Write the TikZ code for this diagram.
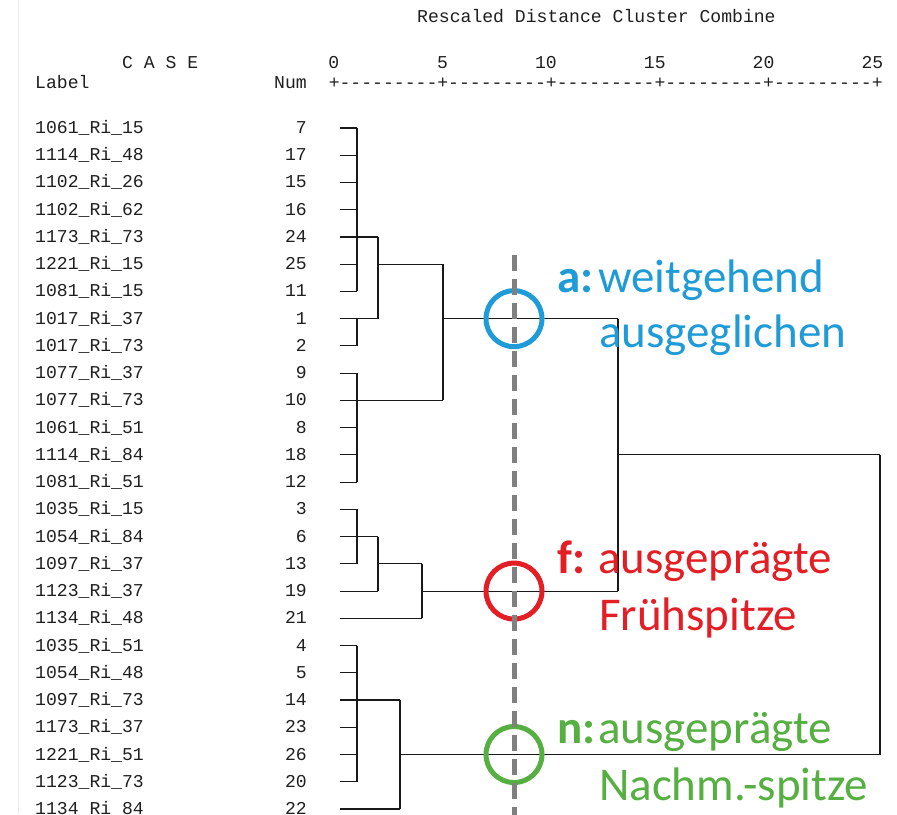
\documentclass[tikz,border=0pt]{standalone}
\usepackage{fontspec}
\setmonofont{Liberation Mono}
\newfontfamily\calib{Carlito}
\definecolor{cblue}{HTML}{1F9BD7}
\definecolor{cred}{HTML}{E31E25}
\definecolor{cgreen}{HTML}{55AF41}
\definecolor{dashgray}{HTML}{808080}
\begin{document}
\begin{tikzpicture}[x=1pt,y=-1pt,
  mono/.style={font=\ttfamily\fontsize{18.1}{20}\selectfont, inner sep=0pt, text=black!88},
  dend/.style={draw=black!90, line width=1.1pt},
  ann/.style={font=\calib\fontsize{47}{56}\selectfont, inner sep=0pt, anchor=base west},
  ring/.style={circle, line width=5pt, minimum size=56pt, inner sep=0pt},
  cutline/.style={draw=dashgray, line width=5pt, dash pattern=on 16pt off 8pt}]
\clip (0,0) rectangle (897,814);
\fill[white] (0,0) rectangle (897,814);
% faint page border
\coordinate (bt) at (18,0);
\coordinate (bb) at (18,814);
\draw[black!8, line width=1pt] (bt) -- (bb);
% header
\node[mono, anchor=base west] (title) at (417,22) {Rescaled Distance Cluster Combine};
\node[mono, anchor=base west] (case) at (122,68) {C A S E};
\node[mono, anchor=base west] (lbl) at (35,88) {Label};
\node[mono, anchor=base east] (numh) at (307,88) {Num};
\node[mono, anchor=base west] (axis) at (328.56,88) {+---------+---------+---------+---------+---------+};
\foreach \v [count=\i from 0] in {0,5,10,15,20,25}{
  \pgfmathsetmacro\tx{334+10.88*10*\i+5.44}
  \node[mono, anchor=base east] (tick\i) at (\tx,68) {\v};
}
% rows
\foreach \lab/\num [count=\k from 0] in {
  1061\_Ri\_15/7, 1114\_Ri\_48/17, 1102\_Ri\_26/15, 1102\_Ri\_62/16,
  1173\_Ri\_73/24, 1221\_Ri\_15/25, 1081\_Ri\_15/11, 1017\_Ri\_37/1,
  1017\_Ri\_73/2, 1077\_Ri\_37/9, 1077\_Ri\_73/10, 1061\_Ri\_51/8,
  1114\_Ri\_84/18, 1081\_Ri\_51/12, 1035\_Ri\_15/3, 1054\_Ri\_84/6,
  1097\_Ri\_37/13, 1123\_Ri\_37/19, 1134\_Ri\_48/21, 1035\_Ri\_51/4,
  1054\_Ri\_48/5, 1097\_Ri\_73/14, 1173\_Ri\_37/23, 1221\_Ri\_51/26,
  1123\_Ri\_73/20, 1134\_Ri\_84/22}{
  \pgfmathsetmacro\yy{128+27.24*\k}
  \pgfmathsetmacro\yb{\yy+5.5}
  \coordinate (r\k) at (340,\yy);
  \node[mono, anchor=base west] (lab\k) at (35,\yb) {\lab};
  \node[mono, anchor=base east] (num\k) at (307,\yb) {\num};
}
% merge columns
\coordinate (xA) at (357,0);
\coordinate (xB) at (378,0);
\coordinate (xE) at (400,0);
\coordinate (xD) at (422,0);
\coordinate (xC) at (443,0);
\coordinate (xF) at (618,0);
\coordinate (xG) at (880,0);
% leaf stubs
\foreach \k in {0,1,2,3,5,6,8,9,11,12,13,14,16,19,20,22,23,24}{
  \draw[dend] (r\k) -- (r\k -| xA);
}
\foreach \k/\c in {4/xB,7/xB,10/xC,15/xB,17/xB,18/xD,21/xE,25/xE}{
  \draw[dend] (r\k) -- (r\k -| \c);
}
% verticals
\foreach \a/\b/\c in {0/6/xA,7/8/xA,9/13/xA,14/16/xA,19/24/xA,4/7/xB,15/17/xB,5/10/xC,16/18/xD,21/25/xE,7/17/xF,12/23/xG}{
  \draw[dend] (r\a -| \c) -- (r\b -| \c);
}
% horizontals between merges
\foreach \k/\c/\d in {5/xB/xC,7/xC/xF,16/xB/xD,17/xD/xF,12/xF/xG,23/xE/xG}{
  \draw[dend] (r\k -| \c) -- (r\k -| \d);
}
% rings
\node[ring, draw=cblue] (ca) at (r7 -| 514,0) {};
\node[ring, draw=cred] (cf) at (r17 -| 514,0) {};
\node[ring, draw=cgreen] (cn) at (r23 -| 514,0) {};
% cut line
\coordinate (dtop) at (514,255);
\coordinate (dbot) at (514,820);
\draw[cutline] (dtop) -- (dbot);
% annotations
\node[ann, text=cblue] (ak) at (557,292) {\bfseries a:};
\node[ann, text=cblue] (a1) at (598,292) {weitgehend};
\node[ann, text=cblue] (a2) at (599,347) {ausgeglichen};
\node[ann, text=cred] (fk) at (557,573) {\bfseries f:};
\node[ann, text=cred] (f1) at (598,573) {ausgeprägte};
\node[ann, text=cred] (f2) at (599,630) {Frühspitze};
\node[ann, text=cgreen] (nk) at (557,743) {\bfseries n:};
\node[ann, text=cgreen] (n1) at (598,743) {ausgeprägte};
\node[ann, text=cgreen] (n2) at (599,800) {Nachm.-spitze};
\end{tikzpicture}
\end{document}
